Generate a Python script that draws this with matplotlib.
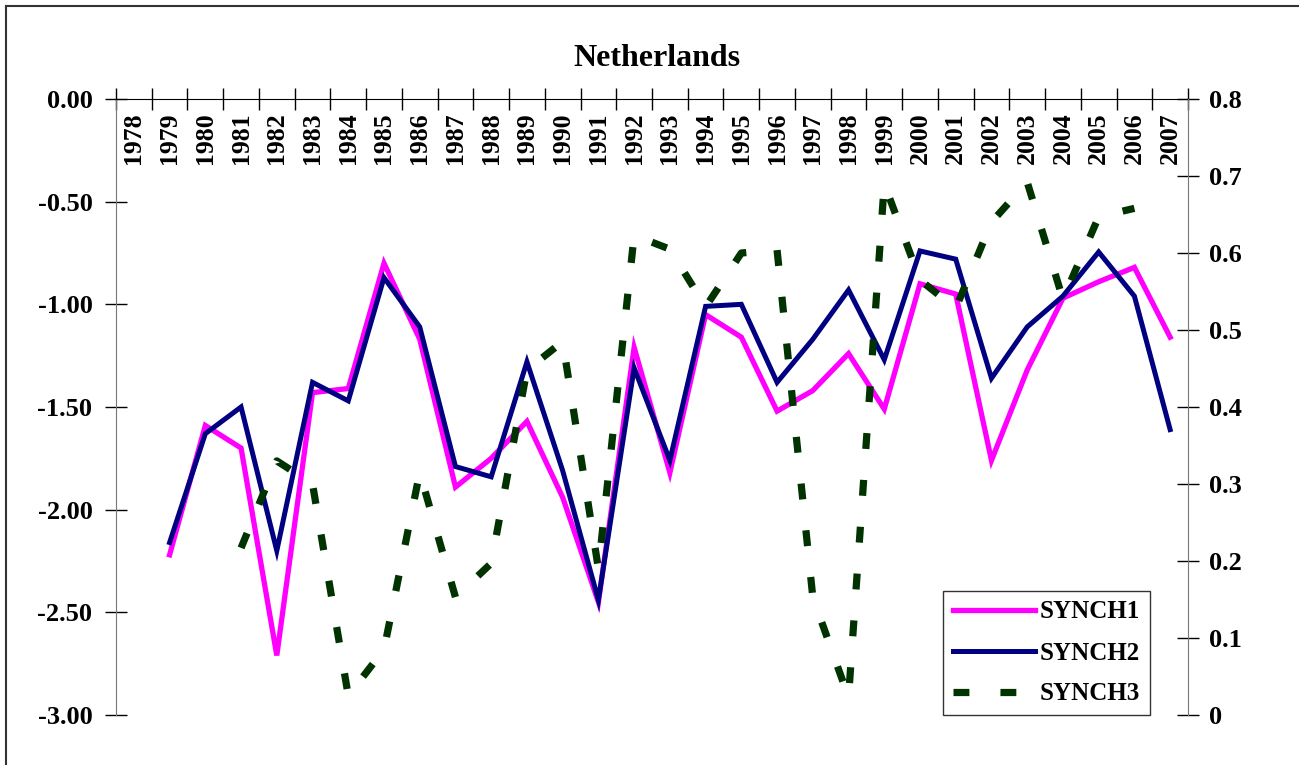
import numpy as np
import matplotlib
matplotlib.use("Agg")
import matplotlib.pyplot as plt
from matplotlib.lines import Line2D
import matplotlib.transforms as mtransforms

plt.rcParams['font.family'] = ['Liberation Serif', 'DejaVu Serif']
plt.rcParams['font.weight'] = 'bold'

years = list(range(1978, 2008))
nan = np.nan

# SYNCH1 / SYNCH2 on the left axis, SYNCH3 on the right axis
synch1 = [nan, -2.22, -1.59, -1.70, -2.71, -1.43, -1.41, -0.80, -1.17, -1.89,
          -1.75, -1.57, -1.94, -2.45, -1.21, -1.82, -1.05, -1.16, -1.52, -1.42,
          -1.24, -1.51, -0.90, -0.95, -1.76, -1.32, -0.97, -0.89, -0.82, -1.16]
synch2 = [nan, -2.16, -1.63, -1.50, -2.20, -1.38, -1.47, -0.87, -1.11, -1.79,
          -1.84, -1.28, -1.81, -2.44, -1.31, -1.76, -1.01, -1.00, -1.38, -1.17,
          -0.93, -1.27, -0.74, -0.78, -1.36, -1.11, -0.96, -0.745, -0.96, -1.61]
synch3 = [nan, nan, nan, 0.217, 0.330, 0.300, 0.025, 0.085, 0.315, 0.153,
          0.197, 0.448, 0.485, 0.190, 0.623, 0.605, 0.530, 0.600, 0.604, 0.153,
          0.023, 0.690, 0.565, 0.528, 0.640, 0.692, 0.540, 0.647, 0.658, nan]

left_ticks = np.arange(-3.0, 0.01, 0.5)
right_ticks = np.arange(0, 0.81, 0.1)
right_labels = ['0', '0.1', '0.2', '0.3', '0.4', '0.5', '0.6', '0.7', '0.8']

W, H = 1299, 765
fig = plt.figure(figsize=(W / 100, H / 100), dpi=100)

# outer chart frame (left and top edges visible)
fig.add_artist(Line2D([6 / W, 6 / W], [0, 1 - 6 / H], transform=fig.transFigure,
                      color='#333333', lw=1.5))
fig.add_artist(Line2D([6 / W, 1], [1 - 6 / H, 1 - 6 / H], transform=fig.transFigure,
                      color='#333333', lw=1.5))

ax = fig.add_axes([116 / W, (H - 715) / H, 1072 / W, 616 / H])
x = np.arange(len(years)) + 0.5

ax.plot(x, synch1, color='#FF00FF', lw=3.8, solid_joinstyle='miter', label='SYNCH1')
ax.plot(x, synch2, color='#000080', lw=3.6, solid_joinstyle='miter', label='SYNCH2')

ax.set_xlim(0, len(years))
ax.set_ylim(-3, 0)
ax.set_yticks(left_ticks)
ax.set_yticklabels([f'{v:.2f}' for v in left_ticks])
ax.tick_params(axis='y', direction='inout', length=16, width=1, pad=9,
               labelsize=19, colors='black')

# category axis sits at the top (y = 0), ticks between categories
ax.xaxis.tick_top()
ax.set_xticks(np.arange(0, len(years) + 1))
ax.set_xticklabels([])
ax.tick_params(axis='x', direction='inout', length=16, width=1)
off = mtransforms.ScaledTranslation(0, -13 / 100, fig.dpi_scale_trans)
for xi, yr in zip(x, years):
    ax.text(xi, 1, str(yr), transform=ax.get_xaxis_transform() + off,
            rotation=90, ha='center', va='top', fontsize=18.5, fontweight='bold')

for s in ['bottom', 'right']:
    ax.spines[s].set_visible(False)
ax.spines['top'].set_color('black')
ax.spines['left'].set_color('#777777')

ax2 = ax.twinx()
ax2.plot(x, synch3, color='#003300', lw=5.2, dashes=(2.2, 4.3),
         dash_capstyle='butt', label='SYNCH3')
ax2.set_ylim(0, 0.8)
ax2.set_yticks(right_ticks)
ax2.set_yticklabels(right_labels)
ax2.tick_params(axis='y', direction='inout', length=16, width=1, pad=7,
                labelsize=19)
for s in ['bottom', 'top', 'left']:
    ax2.spines[s].set_visible(False)
ax2.spines['right'].set_color('#777777')

fig.text(657 / W, 1 - 58 / H, 'Netherlands', ha='center', va='center',
         fontsize=23, fontweight='bold')

h1, l1 = ax.get_legend_handles_labels()
h2, l2 = ax2.get_legend_handles_labels()
leg = ax2.legend(h1 + h2, l1 + l2, loc='lower left',
                 bbox_to_anchor=(943 / W, (H - 715) / H),
                 bbox_transform=fig.transFigure, borderaxespad=0,
                 fancybox=False, framealpha=1, edgecolor='#333333',
                 prop={'size': 18, 'weight': 'bold'},
                 handlelength=3.3, handletextpad=0.2, labelspacing=0.72,
                 borderpad=0.38)
leg.get_frame().set_linewidth(1)

fig.savefig('out.png', dpi=100)
